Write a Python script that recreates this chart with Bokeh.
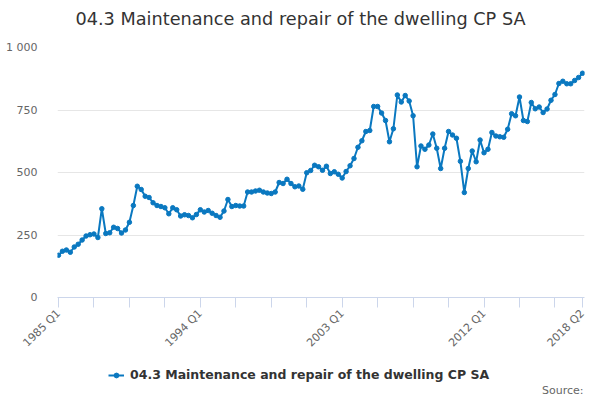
import math
from bokeh.plotting import figure
from bokeh.layouts import column
from bokeh.models import (Range1d, FixedTicker, ColumnDataSource, Legend, LegendItem, Label)
from bokeh.embed import file_html
from bokeh.resources import INLINE

# ---- data ----
title_text = "04.3 Maintenance and repair of the dwelling CP SA"
series_name = "04.3 Maintenance and repair of the dwelling CP SA"
source_text = "Source:"
start_year = 1985
values = [
    169, 185, 190, 181, 202, 213, 230, 246, 251, 254,
    240, 355, 256, 259, 281, 276, 258, 270, 301, 368,
    445, 432, 405, 400, 379, 368, 364, 359, 335, 359,
    351, 326, 331, 328, 319, 332, 351, 342, 348, 337,
    328, 321, 346, 392, 364, 368, 366, 366, 422, 422,
    426, 429, 422, 418, 416, 422, 460, 456, 473, 456,
    443, 446, 433, 499, 508, 529, 523, 509, 525, 496,
    503, 493, 478, 504, 527, 556, 601, 627, 664, 668,
    764, 764, 738, 708, 623, 675, 810, 782, 808, 786,
    727, 523, 606, 593, 610, 654, 597, 516, 597, 664,
    650, 637, 545, 420, 516, 586, 543, 630, 579, 593,
    660, 646, 643, 641, 673, 735, 727, 802, 708, 704,
    780, 755, 762, 740, 754, 789, 812, 856, 865, 855,
    855, 868, 880, 897,
]
quarters = [f"{start_year + i // 4} Q{i % 4 + 1}" for i in range(len(values))]
y_ticks = [0, 250, 500, 750, 1000]
y_tick_labels = ["0", "250", "500", "750", "1 000"]
x_tick_step = 9
x_label_step = 36

idx = list(range(len(values)))
src = ColumnDataSource(dict(x=idx, y=values, q=quarters))

FONT = "DejaVu Sans"
BLUE = "#0a78c0"
AXIS = "#ccd6eb"


def bare_figure(h):
    fig = figure(width=600, height=h, output_backend="svg", toolbar_location=None,
                 x_range=Range1d(0, 600), y_range=Range1d(0, h),
                 x_axis_type=None, y_axis_type=None,
                 min_border_left=0, min_border_right=0, min_border_top=0, min_border_bottom=0)
    fig.outline_line_color = None
    fig.xgrid.grid_line_color = None
    fig.ygrid.grid_line_color = None
    fig.border_fill_color = "white"
    fig.background_fill_color = "white"
    return fig


# ---- header: title ----
hdr = bare_figure(39)
hdr.add_layout(Label(x=243, y=21, x_units="screen", y_units="screen", text=title_text,
                     text_align="center", text_baseline="middle", text_font=FONT,
                     text_font_size="17.7px", text_color="#333333"))

# ---- main chart ----
p = figure(width=600, height=321, output_backend="svg", toolbar_location=None,
           x_range=Range1d(-0.25, len(values) - 1 + 0.5), y_range=Range1d(0, 1000),
           min_border_left=57, min_border_right=16, min_border_top=8, min_border_bottom=63)
p.outline_line_color = None
p.background_fill_color = "white"
p.border_fill_color = "white"

p.xgrid.grid_line_color = None
p.ygrid.grid_line_color = "#e6e6e6"
p.ygrid.grid_line_width = 1

p.yaxis.ticker = FixedTicker(ticks=y_ticks)
p.yaxis.major_label_overrides = {t: l for t, l in zip(y_ticks, y_tick_labels)}
p.yaxis.axis_line_color = None
p.yaxis.major_tick_line_color = None
p.yaxis.minor_tick_line_color = None
p.yaxis.major_label_standoff = 14
p.yaxis.major_label_text_font = FONT
p.yaxis.major_label_text_font_size = "11px"
p.yaxis.major_label_text_color = "#666666"

n = len(values)
xt = list(range(0, n, x_tick_step))
if xt[-1] != n - 1:
    xt.append(n - 1)
p.xaxis.ticker = FixedTicker(ticks=xt)
overrides = {}
for t in xt:
    overrides[t] = quarters[t] if (t % x_label_step == 0 or t == n - 1) else ""
p.xaxis.major_label_overrides = overrides
p.xaxis.axis_line_color = AXIS
p.xaxis.major_tick_line_color = AXIS
p.xaxis.major_tick_out = 10
p.xaxis.major_tick_in = 0
p.xaxis.minor_tick_line_color = None
p.xaxis.major_label_orientation = math.pi / 4
p.xaxis.major_label_standoff = 4
p.xaxis.major_label_text_font = FONT
p.xaxis.major_label_text_font_size = "11px"
p.xaxis.major_label_text_color = "#666666"

ln = p.line("x", "y", source=src, line_color=BLUE, line_width=2)
sc = p.scatter("x", "y", source=src, size=4.5, fill_color=BLUE, line_color=BLUE)

# ---- footer: legend + source ----
ftr = bare_figure(40)
proxy = ColumnDataSource(dict(x=[float("nan")], y=[float("nan")]))
lg_line = ftr.line("x", "y", source=proxy, line_color=BLUE, line_width=2)
lg_mark = ftr.scatter("x", "y", source=proxy, size=4.5, fill_color=BLUE, line_color=BLUE)
legend = Legend(items=[LegendItem(label=series_name, renderers=[lg_line, lg_mark])],
                orientation="horizontal", location=(51, 18),
                label_text_font=FONT, label_text_font_size="12.5px",
                label_text_font_style="bold", label_text_color="#333333",
                border_line_color=None, background_fill_alpha=0,
                glyph_width=16, glyph_height=12, label_standoff=6,
                margin=0, padding=3)
ftr.add_layout(legend, "center")
ftr.add_layout(Label(x=526, y=10, x_units="screen", y_units="screen", text=source_text,
                     text_align="right", text_baseline="middle", text_font=FONT,
                     text_font_size="11px", text_color="#666666"))

layout = column(hdr, p, ftr, spacing=0)

open("out.html", "w").write(file_html(layout, INLINE))
